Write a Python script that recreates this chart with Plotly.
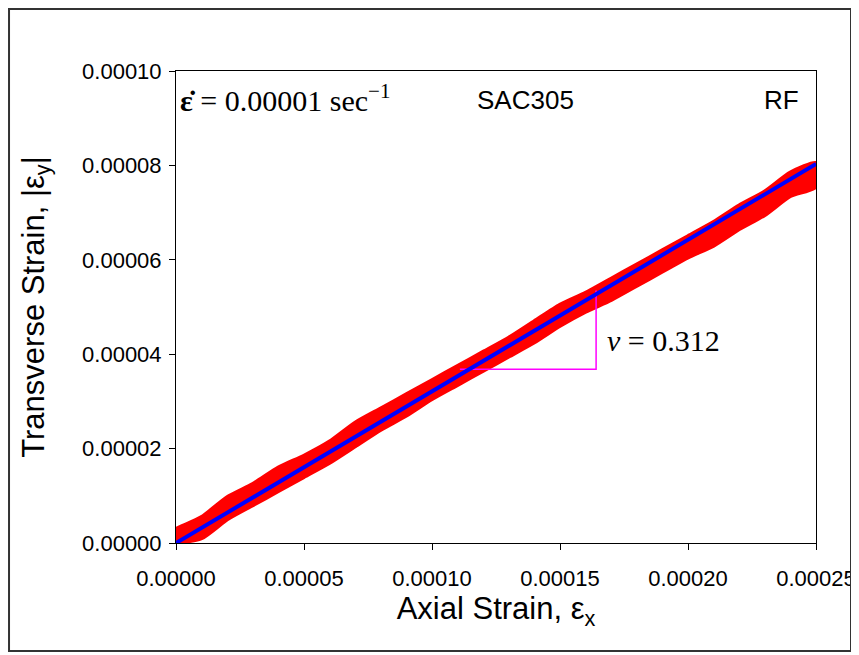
import plotly.graph_objects as go

# axial strain sample positions and the red data band edges
band_x = [0.0, 0.00001, 0.00002, 0.00003, 0.00004, 0.00005, 0.00006, 0.00007, 0.00008,
          0.00009, 0.00010, 0.00011, 0.00012, 0.00013, 0.00014, 0.00015, 0.00016,
          0.00017, 0.00018, 0.00019, 0.00020, 0.00021, 0.00022, 0.00023, 0.00024, 0.00025]
band_upper = [0.0000030, 0.0000055, 0.0000097, 0.0000125, 0.0000160, 0.0000185, 0.0000215,
              0.0000255, 0.0000285, 0.0000315, 0.0000345, 0.0000375, 0.0000405, 0.0000435,
              0.0000470, 0.0000505, 0.0000530, 0.0000560, 0.0000590, 0.0000620, 0.0000650,
              0.0000680, 0.0000715, 0.0000745, 0.0000785, 0.0000805]
band_lower = [0.0000000, 0.0000010, 0.0000050, 0.0000080, 0.0000110, 0.0000140, 0.0000170,
              0.0000205, 0.0000240, 0.0000270, 0.0000305, 0.0000335, 0.0000365, 0.0000395,
              0.0000425, 0.0000460, 0.0000490, 0.0000515, 0.0000545, 0.0000575, 0.0000605,
              0.0000630, 0.0000665, 0.0000695, 0.0000735, 0.0000755]

# linear fit line
fit_x = [0.0, 0.00025]
fit_y = [0.0, 0.0000803]

# slope triangle
tri_x = [0.0001109, 0.0001641, 0.0001641]
tri_y = [0.0000368, 0.0000368, 0.0000535]

x_ticks = [0.0, 0.00005, 0.00010, 0.00015, 0.00020, 0.00025]
y_ticks = [0.0, 0.00002, 0.00004, 0.00006, 0.00008, 0.00010]

fig = go.Figure()

# red measured data, drawn as a filled band
fig.add_trace(go.Scatter(x=band_x + band_x[::-1], y=band_upper + band_lower[::-1],
                         fill='toself', fillcolor='#ff0000', mode='lines',
                         line=dict(color='#ff0000', width=4, shape='spline', smoothing=0.6),
                         hoverinfo='skip', showlegend=False))
fig.add_trace(go.Scatter(x=tri_x, y=tri_y, mode='lines',
                         line=dict(color='#ff00ff', width=1.5), showlegend=False))
fig.add_trace(go.Scatter(x=fit_x, y=fit_y, mode='lines',
                         line=dict(color='#0000ff', width=4), showlegend=False))

serif = 'Liberation Serif, Times New Roman, serif'
sans = 'Liberation Sans, Arial, sans-serif'

fig.add_annotation(x=0.0, y=0.0000942, xref='x', yref='y', xanchor='left', yanchor='middle',
                   text='<b>ε̇</b> = 0.00001 sec<sup>−1</sup>', showarrow=False,
                   font=dict(family=serif, size=30, color='black'), xshift=2)
fig.add_annotation(x=0.0001367, y=0.0000939, xref='x', yref='y', xanchor='center',
                   yanchor='middle', text='SAC305', showarrow=False,
                   font=dict(family=sans, size=26, color='black'))
fig.add_annotation(x=0.0002367, y=0.0000939, xref='x', yref='y', xanchor='center',
                   yanchor='middle', text='RF', showarrow=False,
                   font=dict(family=sans, size=26, color='black'))
fig.add_annotation(x=0.0001676, y=0.0000430, xref='x', yref='y', xanchor='left',
                   yanchor='middle', text='<i>ν</i> = 0.312', showarrow=False,
                   font=dict(family=serif, size=30, color='black'))

# outer frame around the whole picture
fig.add_shape(type='rect', xref='paper', yref='paper', x0=-0.2609, x1=1.0547,
              y0=-0.2288, y1=1.1314, line=dict(color='#333333', width=2))

fig.update_layout(
    width=851, height=647,
    margin=dict(l=168, r=43, t=63, b=112, autoexpand=False),
    plot_bgcolor='white', paper_bgcolor='white',
    font=dict(family=sans, color='black'),
    xaxis=dict(range=[0, 0.00025], tickvals=x_ticks, tickformat='.5f',
               showline=True, linecolor='black', linewidth=1, mirror=True,
               ticks='outside', ticklen=6, tickcolor='black', showgrid=False,
               zeroline=False, tickfont=dict(size=22), automargin=False,
               ticklabelstandoff=10,
               title=dict(text='Axial Strain, ε<sub>x</sub>', font=dict(size=31),
                          standoff=2)),
    yaxis=dict(range=[0, 0.0001], tickvals=y_ticks, tickformat='.5f',
               showline=True, linecolor='black', linewidth=1, mirror=True,
               ticks='outside', ticklen=6, tickcolor='black', showgrid=False,
               zeroline=False, tickfont=dict(size=22), automargin=False,
               ticklabelstandoff=3,
               title=dict(text='Transverse Strain, |ε<sub>y</sub>|', font=dict(size=31),
                          standoff=28)),
)

fig.write_html("out.html")
